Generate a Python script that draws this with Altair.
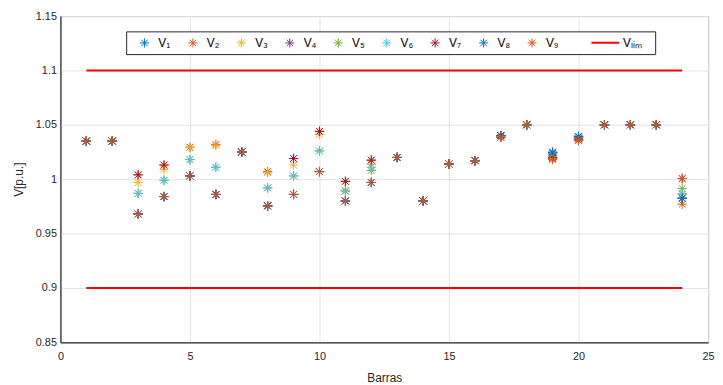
import altair as alt
import pandas as pd

barras = list(range(1, 25))

V1 = [1.035, 1.035, 0.968, 0.984, 1.003, 0.986, 1.025, 0.9755, 0.986, 1.007, 0.980, 0.997,
      1.020, 0.980, 1.014, 1.017, 1.040, 1.050, 1.025, 1.0395, 1.050, 1.050, 1.050, 0.9825]
V2 = [1.035, 1.035, 1.004, 1.013, 1.0295, 1.032, 1.025, 1.007, 1.019, 1.044, 0.998, 1.0175,
      1.020, 0.980, 1.014, 1.017, 1.0385, 1.050, 1.019, 1.036, 1.050, 1.050, 1.050, 0.977]
V3 = [1.035, 1.035, 0.997, 1.009, 1.029, 1.031, 1.025, 1.006, 1.013, 1.041, 0.990, 1.0136,
      1.020, 0.980, 1.014, 1.017, 1.040, 1.050, 1.021, 1.0375, 1.050, 1.050, 1.050, 0.986]
V4 = [1.035, 1.035, 0.968, 0.984, 1.003, 0.986, 1.025, 0.9755, 0.986, 1.007, 0.980, 0.997,
      1.020, 0.980, 1.014, 1.017, 1.040, 1.050, 1.0245, 1.039, 1.050, 1.050, 1.050, 0.9825]
V5 = [1.035, 1.035, 0.987, 0.999, 1.018, 1.011, 1.025, 0.992, 1.003, 1.026, 0.989, 1.008,
      1.020, 0.980, 1.014, 1.017, 1.040, 1.050, 1.022, 1.038, 1.050, 1.050, 1.050, 0.9915]
V6 = [1.035, 1.035, 0.987, 0.999, 1.018, 1.011, 1.025, 0.992, 1.003, 1.026, 0.989, 1.011,
      1.020, 0.980, 1.014, 1.017, 1.040, 1.050, 1.023, 1.038, 1.050, 1.050, 1.050, 0.987]
V7 = [1.035, 1.035, 1.004, 1.013, 1.003, 0.986, 1.025, 0.9755, 1.019, 1.044, 0.998, 1.0175,
      1.020, 0.980, 1.014, 1.017, 1.040, 1.050, 1.020, 1.037, 1.050, 1.050, 1.050, 1.0006]
V8 = [1.035, 1.035, 0.968, 0.984, 1.003, 0.986, 1.025, 0.9755, 0.986, 1.007, 0.980, 0.997,
      1.020, 0.980, 1.014, 1.017, 1.040, 1.050, 1.024, 1.039, 1.050, 1.050, 1.050, 0.9825]
V9 = [1.035, 1.035, 0.968, 0.984, 1.003, 0.986, 1.025, 0.9755, 0.986, 1.007, 0.980, 0.997,
      1.020, 0.980, 1.014, 1.017, 1.0385, 1.050, 1.018, 1.0355, 1.050, 1.050, 1.050, 1.0006]

series = [V1, V2, V3, V4, V5, V6, V7, V8, V9]
names = ["V\u2081", "V\u2082", "V\u2083", "V\u2084", "V\u2085",
         "V\u2086", "V\u2087", "V\u2088", "V\u2089"]
lim_name = "V\u2097\u1d62\u2098"
colors = ["#0072BD", "#D95319", "#EDB120", "#7E2F8E", "#77AC30",
          "#4DBEEE", "#A2142F", "#0072BD", "#D95319"]
lim_color = "#FF0000"

lim_x = [1, 24]
lim_y = [1.1, 0.9]

y_ticks = [0.85, 0.9, 0.95, 1.0, 1.05, 1.1, 1.15]
x_ticks = [0, 5, 10, 15, 20, 25]

rows = []
for name, vals in zip(names, series):
    for b, v in zip(barras, vals):
        rows.append({"barra": b, "v": v, "serie": name})
df = pd.DataFrame(rows)

lim_df = pd.DataFrame([{"x1": lim_x[0], "x2": lim_x[1], "y": yy, "lim": lim_name} for yy in lim_y])

ast = "M-1,0L1,0M0,-1L0,1M-0.71,-0.71L0.71,0.71M-0.71,0.71L0.71,-0.71"

FONT = "Liberation Sans"
TXT = "#262626"

xscale = alt.Scale(domain=[0, 25], nice=False, zero=False)
yscale = alt.Scale(domain=[0.85, 1.15], nice=False, zero=False)

xaxis = alt.Axis(values=x_ticks, title="Barras", grid=True, ticks=False,
                 labelPadding=8, titlePadding=12, labelFlush=False)
yaxis = alt.Axis(values=y_ticks, title="V[p.u.]", grid=True, ticks=False,
                 format=".2~f", labelPadding=4, titlePadding=10)

leg = alt.Legend(orient="none", legendX=79, legendY=21, direction="horizontal",
                 columns=9, title=None, padding=0,
                 labelFontSize=12, labelFont=FONT, labelColor="#000000",
                 columnPadding=15, labelOffset=8, symbolSize=85, symbolStrokeWidth=1)

leg_lim = alt.Legend(orient="none", legendX=536, legendY=12, direction="horizontal",
                     title=None, padding=0, symbolType="stroke",
                     labelFontSize=12, labelFont=FONT, labelColor="#000000",
                     labelOffset=3, symbolSize=784, symbolStrokeWidth=2)

# legend frame (layout element, white box behind both legends)
frame = alt.Chart(pd.DataFrame({"k": [0]})).mark_rect(
    fill="white", stroke=TXT, strokeWidth=1
).encode(
    x=alt.value(67), x2=alt.value(602), y=alt.value(16), y2=alt.value(39)
)

points = alt.Chart(df).mark_point(filled=False, opacity=1, size=90, strokeWidth=1).encode(
    x=alt.X("barra:Q", scale=xscale, axis=xaxis),
    y=alt.Y("v:Q", scale=yscale, axis=yaxis),
    color=alt.Color("serie:N", scale=alt.Scale(domain=names, range=colors), legend=leg),
    shape=alt.Shape("serie:N", scale=alt.Scale(domain=names, range=[ast] * 9), legend=leg),
)

limits = alt.Chart(lim_df).mark_rule(strokeWidth=2).encode(
    x=alt.X("x1:Q", scale=xscale, axis=xaxis),
    x2="x2:Q",
    y=alt.Y("y:Q", scale=yscale, axis=yaxis),
    stroke=alt.Stroke("lim:N", scale=alt.Scale(domain=[lim_name], range=[lim_color]), legend=leg_lim),
)

chart = alt.layer(limits, points, frame).properties(
    width=655, height=330,
    autosize=alt.AutoSizeParams(type="none"),
    padding={"left": 53, "top": 6, "right": 7, "bottom": 41},
    background="white",
).configure_view(
    stroke=TXT, strokeWidth=1
).configure_axis(
    labelFont=FONT, titleFont=FONT, labelFontSize=11, titleFontSize=12,
    labelColor=TXT, titleColor=TXT, titleFontWeight="normal",
    gridColor="#e3e3e3", gridWidth=1, domainColor=TXT, domainWidth=1,
)

chart.save("out.html", embed_options={"renderer": "svg", "actions": False})
